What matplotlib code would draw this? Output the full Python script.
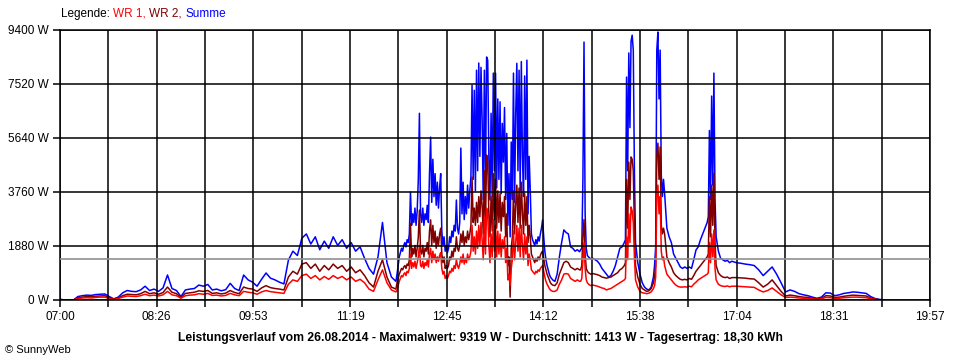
import numpy as np
import matplotlib
matplotlib.use("Agg")
import matplotlib.pyplot as plt

# minutes after 07:00 (coarse where the curve is smooth, 1 min around the peaks)
minutes = np.concatenate([
    np.arange(0, 301, 4), np.arange(301, 441),
    np.arange(442, 465, 2), np.arange(465, 472), np.arange(472, 505, 2),
    np.arange(505, 514), np.arange(514, 531, 2), np.arange(531, 540),
    np.arange(540, 579, 2), np.arange(579, 586), np.arange(586, 601, 2),
    np.arange(604, 737, 4),
])

summe = [
    # 07:00 - 12:00
    30, 0, 0, 0, 120, 150, 170, 160, 190, 200,
    210, 120, 40, 100, 250, 330, 300, 290, 350, 480,
    330, 380, 300, 420, 870, 400, 330, 120, 350, 380,
    400, 520, 480, 540, 350, 380, 320, 360, 580, 400,
    330, 870, 700, 620, 480, 720, 940, 760, 700, 620,
    560, 1390, 1700, 1550, 2150, 2300, 1950, 2200, 1750, 2050,
    1800, 2200, 1900, 2100, 1800, 2000, 1700, 1850, 1450, 1100,
    900, 1500, 2700, 1300, 800, 650,
    # 12:01 - 14:20
    900, 1200, 1500, 1650, 1800, 1700, 1900, 2000, 1850, 2100,
    2000, 2300, 3760, 2600, 3000, 2700, 3200, 2600, 3100, 4200,
    6500, 3000, 2700, 3200, 2600, 3000, 2800, 3300, 2700, 4400,
    5670, 3400, 4900, 3600, 4400, 3300, 4100, 3200, 3900, 4400,
    2400, 1900, 2200, 1700, 1900, 1650, 1800, 2200, 2000, 2400,
    2200, 2600, 2400, 3480, 2500, 2300, 2700, 5290, 3000, 4100,
    2800, 3600, 3000, 4000, 3200, 3800, 4300, 7480, 4200, 7300,
    3800, 8000, 4500, 8250, 5000, 8100, 6300, 3500, 8000, 4000,
    8460, 8350, 5000, 3480, 6500, 3600, 7900, 4500, 7900, 3900,
    7000, 4200, 6900, 3700, 6150, 4800, 6700, 3500, 5800, 2600,
    4400, 2200, 5500, 3500, 7900, 3400, 6500, 8240, 4500, 8000,
    3800, 8300, 5000, 3600, 7800, 4200, 8350, 3000, 5000, 3800,
    2300, 2100, 2000, 1900, 2100, 1950, 2200, 2050, 2300, 2500,
    2790, 2200, 1700, 1400, 1200, 1050, 900, 800, 750, 700,
    # 14:22 - 17:00
    650, 900, 1500, 2000, 2440, 2350, 2300, 1850, 1800, 1700, 1750, 1680,
    1750, 1800, 4180, 8980, 3000, 1800, 1550,
    1500, 1430, 1450, 1400, 1350, 1250, 1100, 1000, 900, 800, 850, 1000,
    1200, 1500, 1800, 1850, 2000,
    2100, 7760, 4500, 8600, 6000, 9000, 9220, 8700, 4500,
    2000, 1300, 900, 600, 450, 380, 350, 450, 800,
    1200, 1850, 8700, 9330, 7000, 8700, 4350, 3600, 4200,
    3700, 2500, 2200, 2000, 1600, 1450, 1300, 1150, 1100, 1150,
    1100, 1150, 1100, 1400, 1740, 1850, 2100, 2300, 2500, 2700,
    2900, 5900, 3500, 7100, 4000, 7900, 3500,
    2200, 1700, 1450, 1400, 1350, 1380, 1300, 1350,
    # 17:04 - 19:16
    1300, 1280, 1250, 1230, 1200, 1050, 850, 1000, 1150, 900,
    600, 280, 350, 300, 220, 180, 150, 100, 60, 100,
    250, 240, 150, 180, 230, 250, 280, 270, 250, 230,
    120, 50, 20, 0,
]

wr2 = [
    0, 0, 0, 0, 80, 100, 120, 110, 130, 140,
    150, 80, 30, 70, 150, 200, 190, 180, 220, 300,
    220, 250, 200, 260, 450, 270, 220, 90, 230, 250,
    270, 320, 300, 330, 230, 250, 210, 240, 330, 260,
    220, 450, 400, 380, 300, 420, 500, 430, 400, 380,
    350, 800, 1000, 900, 1250, 1300, 1100, 1250, 1000, 1200,
    1050, 1250, 1100, 1200, 1000, 1150, 950, 1050, 850, 600,
    450, 1000, 1400, 800, 450, 380,
    600, 750, 900, 1000, 1100, 1050, 1150, 1200, 1100, 1250,
    1200, 1400, 2670, 1500, 1800, 1600, 1900, 1500, 1800, 2200,
    3130, 1700, 1600, 1900, 1500, 1800, 1700, 2000, 1600, 2400,
    2790, 1900, 2600, 2000, 2400, 1800, 2200, 1900, 2300, 2500,
    1600, 1300, 1500, 1100, 1200, 1100, 1200, 1500, 1400, 1700,
    1500, 1800, 1700, 2200, 1800, 1700, 1900, 2300, 2000, 2400,
    1900, 2200, 2000, 2400, 2100, 2300, 2600, 4280, 2700, 3200,
    2600, 3400, 2700, 3600, 2900, 3800, 3300, 2300, 4500, 2600,
    5050, 4800, 3000, 2200, 3600, 2400, 4400, 2800, 4200, 2500,
    3800, 2700, 3700, 2400, 3400, 2900, 3600, 2200, 3000, 1200,
    1500, 100, 1800, 2200, 3800, 2300, 3300, 4000, 2700, 3900,
    2500, 4100, 3000, 2300, 3700, 2600, 3600, 2000, 2600, 2200,
    1600, 1500, 1400, 1300, 1450, 1350, 1500, 1400, 1550, 1650,
    1700, 1450, 1200, 1050, 900, 800, 700, 600, 550, 520,
    500, 600, 900, 1100, 1300, 1350, 1300, 1150, 1100, 1050, 1100, 1050,
    1050, 1200, 2200, 2800, 1600, 1100, 1000,
    950, 900, 920, 900, 880, 850, 800, 780, 760, 780, 800, 850,
    900, 950, 1050, 1100, 1200,
    1300, 4200, 2500, 4800, 3500, 4980, 4900, 4500, 2500,
    1200, 800, 550, 400, 350, 300, 320, 400, 600,
    800, 1200, 5000, 5460, 4200, 5330, 2600, 2300, 2500,
    2300, 1500, 1300, 1150, 950, 850, 780, 720, 700, 720,
    700, 750, 720, 850, 1000, 1100, 1200, 1300, 1400, 1500,
    1600, 3600, 2200, 4000, 2600, 4420, 2000,
    1200, 950, 850, 800, 780, 800, 750, 780,
    780, 770, 760, 740, 730, 600, 450, 550, 700, 500,
    300, 140, 170, 150, 120, 100, 90, 60, 40, 60,
    150, 140, 90, 100, 130, 150, 170, 160, 150, 140,
    70, 30, 10, 0,
]

wr1 = [
    0, 0, 0, 0, 50, 70, 80, 70, 90, 100,
    100, 50, 20, 50, 100, 140, 130, 120, 150, 200,
    150, 170, 140, 180, 300, 180, 150, 60, 150, 170,
    180, 220, 200, 230, 160, 170, 140, 160, 230, 180,
    150, 300, 270, 250, 200, 280, 330, 290, 270, 250,
    230, 550, 700, 650, 850, 900, 750, 850, 700, 820,
    720, 850, 750, 820, 700, 800, 650, 720, 600, 380,
    300, 700, 1050, 600, 350, 280,
    350, 500, 650, 750, 850, 800, 900, 950, 850, 1000,
    950, 1100, 1600, 1100, 1300, 1150, 1350, 1100, 1300, 1500,
    1900, 1200, 1150, 1350, 1100, 1300, 1200, 1400, 1150, 1600,
    1800, 1300, 1700, 1400, 1600, 1300, 1500, 1350, 1550, 1650,
    1100, 900, 1000, 750, 850, 750, 850, 1000, 950, 1100,
    1000, 1200, 1100, 1400, 1200, 1100, 1250, 1500, 1300, 1600,
    1250, 1450, 1300, 1600, 1400, 1500, 1700, 2600, 1700, 2200,
    1600, 2400, 1800, 2600, 1900, 2700, 2100, 1400, 2900, 1600,
    3200, 3000, 1900, 1300, 2300, 1500, 2800, 1700, 2600, 1500,
    2400, 1600, 2300, 1500, 2100, 1800, 2200, 1300, 1800, 700,
    900, 500, 1100, 1400, 2400, 1400, 2000, 2600, 1700, 2500,
    1500, 2600, 1900, 1400, 2300, 1600, 2200, 1200, 1600, 1400,
    1050, 1000, 950, 900, 1000, 950, 1050, 1000, 1100, 1150,
    1200, 1000, 800, 650, 550, 480, 400, 350, 320, 300,
    300, 350, 550, 700, 900, 920, 900, 750, 700, 650, 700, 650,
    650, 750, 1400, 2000, 1100, 700, 600,
    550, 500, 520, 500, 480, 450, 420, 400, 350, 380, 400, 450,
    500, 550, 600, 650, 700,
    750, 2200, 1400, 3000, 2000, 3240, 3100, 2700, 1500,
    700, 450, 300, 250, 240, 220, 240, 280, 400,
    500, 800, 3600, 4000, 3000, 3600, 1700, 1400, 1500,
    1200, 900, 800, 700, 600, 520, 470, 450, 450, 460,
    450, 480, 460, 550, 620, 700, 750, 800, 850, 900,
    950, 2000, 1300, 2300, 1500, 2440, 1100,
    700, 550, 500, 480, 470, 490, 460, 480,
    480, 470, 460, 450, 440, 350, 280, 330, 420, 300,
    180, 90, 100, 90, 70, 60, 50, 40, 20, 40,
    90, 80, 50, 60, 80, 90, 100, 100, 90, 80,
    40, 20, 5, 0,
]

average = 1413
y_ticks = [0, 1880, 3760, 5640, 7520, 9400]
x_labels = ["07:00", "08:26", "09:53", "11:19", "12:45",
            "14:12", "15:38", "17:04", "18:31", "19:57"]
title = ("Leistungsverlauf vom 26.08.2014 - Maximalwert: 9319 W - "
         "Durchschnitt: 1413 W - Tagesertrag: 18,30 kWh")

plt.rcParams["font.family"] = ["Liberation Sans", "DejaVu Sans"]

fig = plt.figure(figsize=(9.6, 3.6), dpi=100)
ax = fig.add_axes([60 / 960, 60 / 360, 870 / 960, 270 / 360])

ax.plot(minutes, summe, color="#0000ff", lw=1.1)
ax.plot(minutes, wr2, color="#800000", lw=1.1)
ax.plot(minutes, wr1, color="#ff0000", lw=1.1)
ax.axhline(average, color="#909090", lw=1.2, zorder=3)

span = 777
xt = np.linspace(0, span, 19)
ax.set_xticks(xt)
labels = []
for i in range(19):
    labels.append(x_labels[i // 2] if i % 2 == 0 else "")
ax.set_xticklabels(labels, fontsize=8.5)
ax.set_yticks(y_ticks)
ax.set_yticklabels([f"{v} W" for v in y_ticks], fontsize=8.5)
ax.set_xlim(0, span)
ax.set_ylim(0, 9400)
ax.grid(True, color="black", lw=1.1)
ax.set_axisbelow(False)
ax.tick_params(length=5, width=1.1, color="black", pad=3)
for s in ax.spines.values():
    s.set_color("black")
    s.set_linewidth(1.1)

# legend line on top
t = fig.text(61 / 960, 1 - 17 / 360, "Legende: ", fontsize=8.5, va="baseline")
for s, c in [("WR 1, ", "#ff0000"), ("WR 2, ", "#800000"), ("Summe", "#0000ff")]:
    t = ax.annotate(s, xy=(1, 0), xycoords=t, fontsize=8.5, color=c,
                    va="bottom", annotation_clip=False)

fig.text(0.5, 1 - 341 / 360, title, ha="center", fontsize=8.7, fontweight="bold")
fig.text(5 / 960, 1 - 353 / 360, "\u00a9 SunnyWeb", fontsize=8)

fig.savefig("out.png", dpi=100)
